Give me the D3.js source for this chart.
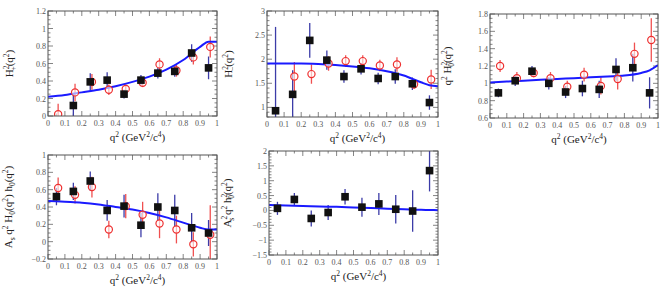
<!DOCTYPE html>
<html>
<head>
<meta charset="utf-8">
<script src="https://cdn.jsdelivr.net/npm/d3@7"></script>
<style>
  body { margin: 0; background: #fff; }
  svg { display: block; font-family: "Liberation Serif", "DejaVu Serif", serif; }
  .tick-label { font-size: 8px; fill: #555; }
  .title { font-size: 11px; fill: #222; }
</style>
</head>
<body>
<svg class="chart" width="665" height="293"></svg>
<script>
// q2 bin centres (black points) and shifted centres (red points)
const q2Bins = [0.05, 0.15, 0.25, 0.35, 0.45, 0.55, 0.65, 0.75, 0.85, 0.95]
const q2Red = [0.06, 0.16, 0.26, 0.36, 0.46, 0.56, 0.66, 0.76, 0.86, 0.96]
const fitQ2 = [0, 0.1, 0.2, 0.3, 0.4, 0.5, 0.6, 0.7, 0.8, 0.9, 0.95, 1]
const xTicks = [0, 0.1, 0.2, 0.3, 0.4, 0.5, 0.6, 0.7, 0.8, 0.9, 1]

// H+^2
const hPlusBlack = [null, 0.12, 0.39, 0.41, 0.25, 0.41, 0.49, 0.51, 0.72, 0.55]
const hPlusBlackErr = [null, 0.14, 0.10, 0.09, 0.05, 0.06, 0.06, 0.06, 0.10, 0.13]
const hPlusRed = [0.02, 0.27, 0.39, 0.30, 0.31, 0.38, 0.59, 0.52, 0.67, 0.79]
const hPlusRedErr = [0.12, 0.10, 0.09, 0.06, 0.05, 0.05, 0.07, 0.07, 0.08, 0.12]
const hPlusFit = [0.22, 0.24, 0.27, 0.30, 0.34, 0.39, 0.45, 0.53, 0.64, 0.79, 0.85, 0.85]
const hPlusTicks = [0, 0.2, 0.4, 0.6, 0.8, 1, 1.2]

// H-^2
const hMinusBlack = [0.93, 1.27, 2.39, 1.98, 1.64, 1.80, 1.60, 1.64, 1.49, 1.10]
const hMinusBlackErr = [1.74, 0.50, 0.36, 0.20, 0.13, 0.12, 0.12, 0.15, 0.13, 0.15]
const hMinusRed = [null, 1.64, 1.69, 1.91, 1.96, 1.96, 1.87, 1.89, 1.48, 1.58]
const hMinusRedErr = [null, 0.30, 0.20, 0.15, 0.12, 0.12, 0.12, 0.15, 0.10, 0.20]
const hMinusFit = [1.91, 1.91, 1.91, 1.90, 1.88, 1.85, 1.81, 1.75, 1.66, 1.52, 1.46, 1.44]
const hMinusTicks = [1, 1.5, 2, 2.5, 3]

// q2 H0^2
const h0Black = [0.89, 1.03, 1.14, 1.00, 0.90, 0.94, 0.93, 1.16, 1.18, 0.89]
const h0BlackErr = [0.05, 0.06, 0.06, 0.07, 0.07, 0.09, 0.10, 0.13, 0.16, 0.18]
const h0Red = [1.20, 1.06, 1.12, 1.06, 0.96, 1.10, 0.97, 1.05, 1.34, 1.50]
const h0RedErr = [0.07, 0.07, 0.05, 0.07, 0.07, 0.08, 0.10, 0.12, 0.13, 0.25]
const h0Fit = [1.01, 1.02, 1.03, 1.04, 1.05, 1.06, 1.07, 1.08, 1.09, 1.12, 1.15, 1.21]
const h0Ticks = [0.6, 0.8, 1, 1.2, 1.4, 1.6, 1.8]

// As q2 H0 h0
const interBlack = [0.52, 0.58, 0.70, 0.36, 0.41, 0.19, 0.40, 0.36, 0.16, 0.10]
const interBlackErr = [0.10, 0.10, 0.11, 0.12, 0.13, 0.14, 0.16, 0.18, 0.17, 0.15]
const interRed = [0.62, 0.54, 0.63, 0.14, 0.41, 0.31, 0.21, 0.14, -0.03, 0.08]
const interRedErr = [0.12, 0.10, 0.12, 0.10, 0.14, 0.15, 0.17, 0.16, 0.14, 0.34]
const interFit = [0.47, 0.46, 0.45, 0.43, 0.40, 0.37, 0.33, 0.28, 0.22, 0.16, 0.14, 0.14]
const interTicks = [-0.2, 0, 0.2, 0.4, 0.6, 0.8, 1]

// As^2 q2 h0^2
const swaveBlack = [0.07, 0.37, -0.27, -0.07, 0.46, 0.11, 0.22, 0.04, -0.02, 1.34]
const swaveBlackErr = [0.22, 0.22, 0.27, 0.25, 0.26, 0.32, 0.37, 0.48, 0.70, 0.70]
const swaveFit = [0.18, 0.165, 0.15, 0.13, 0.12, 0.10, 0.08, 0.06, 0.04, 0.02, 0.015, 0.01]
const swaveTicks = [-1.5, -1, -0.5, 0, 0.5, 1, 1.5, 2]

const panels = [
  { box: [48, 11, 217, 116], y: [0, 1.2], ticks: hPlusTicks, minor: 4,
    black: hPlusBlack, blackErr: hPlusBlackErr, red: hPlusRed, redErr: hPlusRedErr, fit: hPlusFit,
    title: [['H', 0], ['2', -4, 2], ['+', 3, 0, -5], ['(q', 0], ['2', -4], [')', 0]], titleX: 13 },
  { box: [267, 11, 438, 117], y: [0.8, 3], ticks: hMinusTicks, minor: 5,
    black: hMinusBlack, blackErr: hMinusBlackErr, red: hMinusRed, redErr: hMinusRedErr, fit: hMinusFit,
    title: [['H', 0], ['2', -4, 2], ['\u2212', 3, 0, -5], ['(q', 0], ['2', -4], [')', 0]], titleX: 232 },
  { box: [490, 14, 658, 118], y: [0.6, 1.8], ticks: h0Ticks, minor: 4,
    black: h0Black, blackErr: h0BlackErr, red: h0Red, redErr: h0RedErr, fit: h0Fit,
    title: [['q', 0], ['2', -4], [' H', 0], ['2', -4, 2], ['0', 3, 0, -5], ['(q', 0], ['2', -4], [')', 0]], titleX: 451 },
  { box: [48, 155, 217, 259], y: [-0.2, 1], ticks: interTicks, minor: 4,
    black: interBlack, blackErr: interBlackErr, red: interRed, redErr: interRedErr, fit: interFit,
    title: [['A', 0], ['s', 3, 1], [' q', 0], ['2', -4], [' H', 0], ['0', 3, 1], ['(q', 0], ['2', -4], [') h', 0], ['0', 3, 1], ['(q', 0], ['2', -4], [')', 0]], titleX: 12 },
  { box: [269, 151, 438, 255], y: [-1.5, 2], ticks: swaveTicks, minor: 5,
    black: swaveBlack, blackErr: swaveBlackErr, red: null, redErr: null, fit: swaveFit,
    title: [['A', 0], ['2', -4, 2], ['s', 3, 0, -5], [' q', 0], ['2', -4], [' h', 0], ['2', -4, 2], ['0', 3, 0, -5], ['(q', 0], ['2', -4], [')', 0]], titleX: 231 }
]

const svg = d3.select('svg.chart')

// title with sub/superscripts: [text, dy-shift from baseline, small?, dx]
const writeTitle = (text, parts) => {
  let cur = 0
  parts.forEach(p => {
    const [str, shift, , dx] = p
    const t = text.append('tspan').text(str)
    const small = shift !== 0
    t.attr('dy', shift - cur).style('font-size', small ? '7.5px' : null)
    if (dx) t.attr('dx', dx)
    cur = shift
  })
  if (cur !== 0) text.append('tspan').attr('dy', -cur).text('')
}

const drawPanel = p => {
  const [x0, y0, x1, y1] = p.box
  const x = d3.scaleLinear().domain([0, 1]).range([x0, x1])
  const y = d3.scaleLinear().domain(p.y).range([y1, y0])
  const g = svg.append('g')
  const clipId = 'clip' + x0 + '_' + y0
  g.append('clipPath').attr('id', clipId)
    .append('rect').attr('x', x0).attr('y', y0).attr('width', x1 - x0).attr('height', y1 - y0)

  // ticks (inside, all four sides)
  const ticks = g.append('g').attr('stroke', '#666').attr('stroke-width', 0.8)
  const xMinor = d3.range(0, 1.0001, 0.05)
  xMinor.forEach((v, i) => {
    const len = i % 2 === 0 ? 5 : 2.5
    ticks.append('line').attr('x1', x(v)).attr('x2', x(v)).attr('y1', y1).attr('y2', y1 - len)
    ticks.append('line').attr('x1', x(v)).attr('x2', x(v)).attr('y1', y0).attr('y2', y0 + len)
  })
  const step = p.ticks[1] - p.ticks[0]
  const yMinor = d3.range(p.y[0], p.y[1] + 1e-6, step / p.minor)
  yMinor.forEach(v => {
    const major = p.ticks.some(t => Math.abs(t - v) < 1e-6)
    const len = major ? 5 : 2.5
    ticks.append('line').attr('x1', x0).attr('x2', x0 + len).attr('y1', y(v)).attr('y2', y(v))
    ticks.append('line').attr('x1', x1).attr('x2', x1 - len).attr('y1', y(v)).attr('y2', y(v))
  })

  g.selectAll('.xl').data(xTicks).enter().append('text')
    .attr('class', 'tick-label').attr('text-anchor', 'middle')
    .attr('x', d => x(d)).attr('y', y1 + 10)
    .text(d => d3.format('')(d))
  g.selectAll('.yl').data(p.ticks).enter().append('text')
    .attr('class', 'tick-label').attr('text-anchor', 'end')
    .attr('x', x0 - 2).attr('y', d => y(d) + 3)
    .text(d => d3.format('')(+d.toFixed(2)))

  const plot = g.append('g').attr('clip-path', `url(#${clipId})`)

  // error bars
  const bars = (xs, vals, errs, color, width) => {
    plot.selectAll(null).data(vals.map((v, i) => ({ q: xs[i], v, e: errs[i] })).filter(d => d.v !== null))
      .enter().append('line')
      .attr('x1', d => x(d.q)).attr('x2', d => x(d.q))
      .attr('y1', d => y(d.v - d.e)).attr('y2', d => y(d.v + d.e))
      .attr('stroke', color).attr('stroke-width', width)
  }
  if (p.red) bars(q2Red, p.red, p.redErr, '#f05050', 1.3)
  bars(q2Bins, p.black, p.blackErr, '#3c3ca8', 1.3)

  // fit curve
  const line = d3.line().x((d, i) => x(fitQ2[i])).y(d => y(d)).curve(d3.curveMonotoneX)
  plot.append('path').datum(p.fit).attr('d', line)
    .attr('fill', 'none').attr('stroke', '#1a1aff').attr('stroke-width', 2)

  if (p.red) {
    plot.selectAll(null).data(p.red.map((v, i) => ({ q: q2Red[i], v })).filter(d => d.v !== null))
      .enter().append('circle')
      .attr('cx', d => x(d.q)).attr('cy', d => y(d.v)).attr('r', 3.6)
      .attr('fill', '#fff').attr('fill-opacity', 0.6).attr('stroke', '#ee3030').attr('stroke-width', 1.2)
  }
  plot.selectAll(null).data(p.black.map((v, i) => ({ q: q2Bins[i], v })).filter(d => d.v !== null))
    .enter().append('rect')
    .attr('x', d => x(d.q) - 3.8).attr('y', d => y(d.v) - 3.8)
    .attr('width', 7.6).attr('height', 7.6).attr('fill', '#111')

  // frame
  g.append('rect').attr('x', x0).attr('y', y0).attr('width', x1 - x0).attr('height', y1 - y0)
    .attr('fill', 'none').attr('stroke', '#555').attr('stroke-width', 1)

  // x title
  const xt = g.append('text').attr('class', 'title').attr('text-anchor', 'middle')
    .attr('x', (x0 + x1) / 2 + 5).attr('y', y1 + 25)
  writeTitle(xt, [['q', 0], ['2', -4], [' (GeV', 0], ['2', -4], ['/c', 0], ['4', -4], [')', 0]])

  const yt = g.append('text').attr('class', 'title').attr('text-anchor', 'middle')
    .attr('transform', `translate(${p.titleX}, ${(y0 + y1) / 2}) rotate(-90)`)
  writeTitle(yt, p.title)
}

panels.forEach(drawPanel)
</script>
</body>
</html>
